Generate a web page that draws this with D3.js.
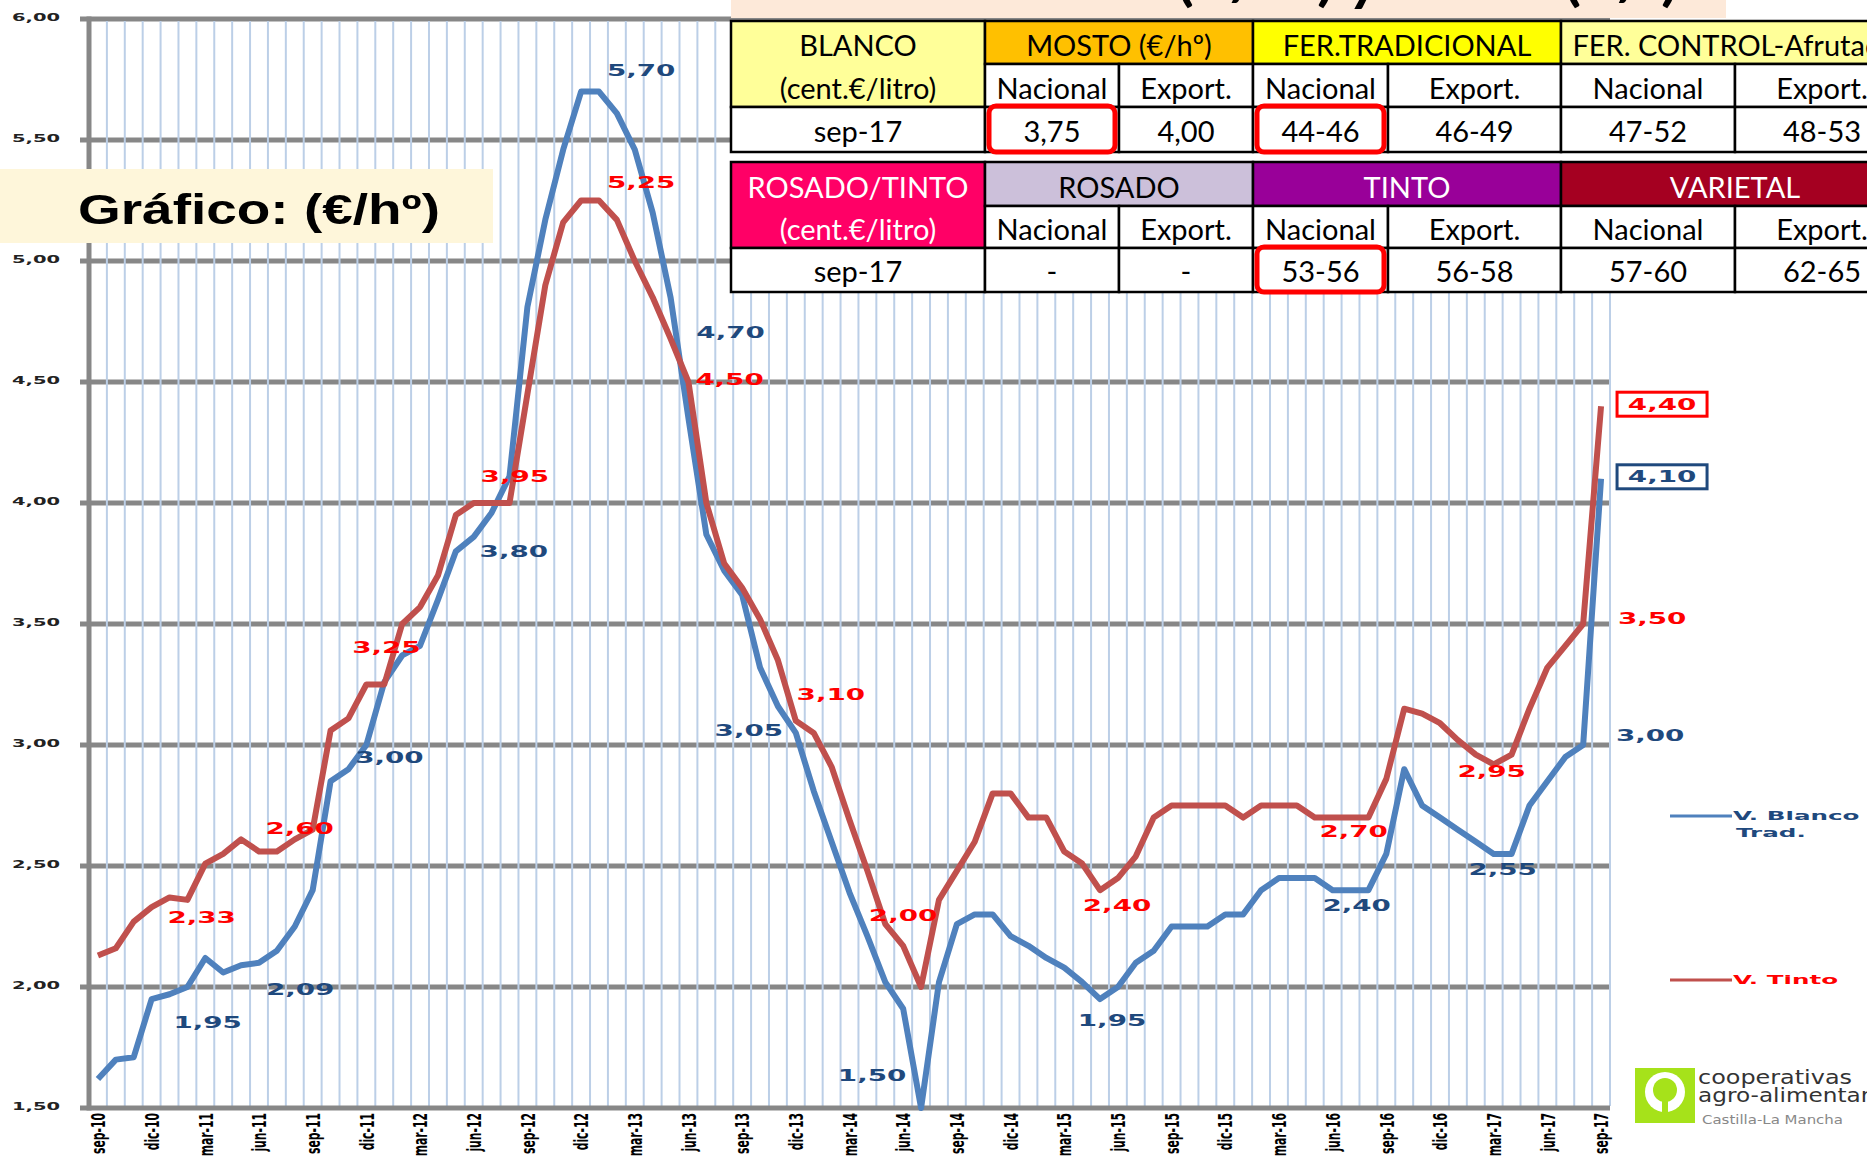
<!DOCTYPE html>
<html lang="es">
  <head>
    <meta charset="utf-8">
    <title>Gráfico (€/hº)</title>
    <script src="https://d3js.org/d3.v7.min.js"></script>
    <style>
      body { margin: 0; background: #fff; }
      svg { display: block; }
    </style>
  </head>
  <body>
    <svg id="chart"></svg>
    <script>
      // monthly categories, sep-10 .. sep-17
      var months = [
        "sep-10","oct-10","nov-10","dic-10",
        "ene-11","feb-11","mar-11","abr-11","may-11","jun-11","jul-11","ago-11","sep-11","oct-11","nov-11","dic-11",
        "ene-12","feb-12","mar-12","abr-12","may-12","jun-12","jul-12","ago-12","sep-12","oct-12","nov-12","dic-12",
        "ene-13","feb-13","mar-13","abr-13","may-13","jun-13","jul-13","ago-13","sep-13","oct-13","nov-13","dic-13",
        "ene-14","feb-14","mar-14","abr-14","may-14","jun-14","jul-14","ago-14","sep-14","oct-14","nov-14","dic-14",
        "ene-15","feb-15","mar-15","abr-15","may-15","jun-15","jul-15","ago-15","sep-15","oct-15","nov-15","dic-15",
        "ene-16","feb-16","mar-16","abr-16","may-16","jun-16","jul-16","ago-16","sep-16","oct-16","nov-16","dic-16",
        "ene-17","feb-17","mar-17","abr-17","may-17","jun-17","jul-17","ago-17","sep-17"
      ];
      var tickMonths = ["sep-10","dic-10","mar-11","jun-11","sep-11","dic-11","mar-12","jun-12","sep-12","dic-12",
        "mar-13","jun-13","sep-13","dic-13","mar-14","jun-14","sep-14","dic-14","mar-15","jun-15","sep-15",
        "dic-15","mar-16","jun-16","sep-16","dic-16","mar-17","jun-17","sep-17"];
      var yTicks = [1.5, 2.0, 2.5, 3.0, 3.5, 4.0, 4.5, 5.0, 5.5, 6.0];

      // V. Blanco Trad.
      var blanco = [
        1.62, 1.70, 1.71, 1.95, 1.97, 2.00, 2.12, 2.06, 2.09, 2.10,
        2.15, 2.25, 2.40, 2.85, 2.90, 3.00, 3.26, 3.37, 3.41, 3.60,
        3.80, 3.86, 3.96, 4.11, 4.81, 5.17, 5.46, 5.70, 5.70, 5.61,
        5.46, 5.20, 4.85, 4.35, 3.87, 3.72, 3.62, 3.32, 3.16, 3.05,
        2.81, 2.60, 2.39, 2.21, 2.02, 1.91, 1.50, 2.02, 2.26, 2.30,
        2.30, 2.21, 2.17, 2.12, 2.08, 2.02, 1.95, 2.00, 2.10, 2.15,
        2.25, 2.25, 2.25, 2.30, 2.30, 2.40, 2.45, 2.45, 2.45, 2.40,
        2.40, 2.40, 2.55, 2.90, 2.75, 2.70, 2.65, 2.60, 2.55, 2.55,
        2.75, 2.85, 2.95, 3.00, 4.10
      ];
      // V. Tinto
      var tinto = [
        2.13, 2.16, 2.27, 2.33, 2.37, 2.36, 2.51, 2.55, 2.61, 2.56,
        2.56, 2.61, 2.65, 3.06, 3.11, 3.25, 3.25, 3.50, 3.57, 3.70,
        3.95, 4.00, 4.00, 4.00, 4.45, 4.90, 5.16, 5.25, 5.25, 5.17,
        5.00, 4.85, 4.68, 4.50, 4.00, 3.75, 3.65, 3.52, 3.35, 3.10,
        3.05, 2.91, 2.69, 2.48, 2.26, 2.17, 2.00, 2.36, 2.48, 2.60,
        2.80, 2.80, 2.70, 2.70, 2.56, 2.51, 2.40, 2.45, 2.54, 2.70,
        2.75, 2.75, 2.75, 2.75, 2.70, 2.75, 2.75, 2.75, 2.70, 2.70,
        2.70, 2.70, 2.86, 3.15, 3.13, 3.09, 3.02, 2.96, 2.92, 2.96,
        3.15, 3.32, 3.41, 3.50, 4.40
      ];

      // data labels: [month index, text, dx, dy, boxed]
      var blancoLabels = [
        [3, "1,95", 56, 23], [8, "2,09", 59, 24], [15, "3,00", 23, 13], [20, "3,80", 58, 0],
        [27, "5,70", 60, -21], [32, "4,70", 60, 35], [39, "3,05", -47, -2], [46, "1,50", -49, -32],
        [56, "1,95", 12, 21], [69, "2,40", 24, 15], [78, "2,55", 9, 16], [83, "3,00", 67, -9],
        [84, "4,10", 61, -2, true]
      ];
      var tintoLabels = [
        [3, "2,33", 50, 10], [12, "2,60", -13, -1], [15, "3,25", 20, -37], [20, "3,95", 59, -39],
        [27, "5,25", 60, -18], [33, "4,50", 41, -2], [39, "3,10", 35, -26], [46, "2,00", -18, -71],
        [56, "2,40", 17, 15], [69, "2,70", 21, 14], [78, "2,95", -2, 7], [83, "3,50", 69, -5],
        [84, "4,40", 61, -2, true]
      ];

      // price tables
      var blancoHead = ["MOSTO (€/hº)", "FER.TRADICIONAL", "FER. CONTROL-Afrutado"];
      var rosadoHead = ["ROSADO", "TINTO", "VARIETAL"];
      var subHead = ["Nacional", "Export."];
      var blancoRow = ["sep-17", "3,75", "4,00", "44-46", "46-49", "47-52", "48-53"];
      var rosadoRow = ["sep-17", "-", "-", "53-56", "56-58", "57-60", "62-65"];

      var w = 1867, h = 1157;
      var plotLeft = 89, plotRight = 1610, plotBottom = 1108, plotTop = 19;
      var blueLine = "#4f81bd", redLine = "#c0504d";
      var blueText = "#1f497d", redText = "#ff0000";

      var svg = d3.select("#chart").attr("width", w).attr("height", h);

      var x = d3.scaleBand().domain(months).range([plotLeft, plotRight]).padding(0);
      var y = d3.scaleLinear().domain([1.5, 6]).range([plotBottom, plotTop]);
      function cx(i) { return x(months[i]) + x.bandwidth() / 2; }

      // horizontal grid
      svg.append("g").selectAll("line")
        .data(yTicks.slice(1))
        .join("line")
        .attr("x1", 80).attr("x2", plotRight)
        .attr("y1", d => y(d)).attr("y2", d => y(d))
        .attr("stroke", "#878787").attr("stroke-width", 5);

      // vertical monthly lines
      svg.append("g").selectAll("line")
        .data(months)
        .join("line")
        .attr("x1", d => x(d) + x.bandwidth()).attr("x2", d => x(d) + x.bandwidth())
        .attr("y1", y(6) + 2).attr("y2", plotBottom - 2)
        .attr("stroke", "#bccfe7").attr("stroke-width", 2);

      // axes lines
      svg.append("line")
        .attr("x1", 80).attr("x2", plotRight).attr("y1", plotBottom).attr("y2", plotBottom)
        .attr("stroke", "#878787").attr("stroke-width", 5);
      svg.append("line")
        .attr("x1", plotLeft).attr("x2", plotLeft).attr("y1", y(6) - 2.5).attr("y2", plotBottom + 2.5)
        .attr("stroke", "#878787").attr("stroke-width", 5);

      // y tick labels
      svg.append("g").selectAll("text")
        .data(yTicks)
        .join("text")
        .attr("transform", d => "translate(60," + (y(d) - 2) + ") scale(1.77,1)")
        .attr("text-anchor", "end")
        .attr("dy", "0.36em")
        .style("font", "bold 11px 'DejaVu Sans', Verdana, sans-serif")
        .attr("fill", "#222")
        .text(d => d3.format(".2f")(d).replace(".", ","));

      // x tick labels (rotated, squeezed along the text to the reference length)
      var xLabels = svg.append("g").selectAll("text")
        .data(tickMonths)
        .join("text")
        .attr("text-anchor", "end")
        .attr("dy", "0.36em")
        .style("font", "bold 20px 'Liberation Sans Narrow', 'DejaVu Sans Condensed', sans-serif")
        .attr("fill", "#000")
        .text(d => d);
      var squeeze = 41 / xLabels.node().getComputedTextLength();
      xLabels.attr("transform", d => "translate(" + (x(d) + x.bandwidth() / 2) + ",1113) rotate(-90) scale(" + squeeze + ",1)");

      // series
      var line = d3.line().x((d, i) => cx(i)).y(d => y(d));
      svg.append("path").datum(blanco)
        .attr("d", line).attr("fill", "none")
        .attr("stroke", blueLine).attr("stroke-width", 6)
        .attr("stroke-linejoin", "round");
      svg.append("path").datum(tinto)
        .attr("d", line).attr("fill", "none")
        .attr("stroke", redLine).attr("stroke-width", 6)
        .attr("stroke-linejoin", "round");

      // data labels
      function drawLabels(labels, values, color) {
        var g = svg.append("g");
        labels.forEach(function(l) {
          var lx = cx(l[0]) + l[2], ly = y(values[l[0]]) + l[3];
          if (l[4]) {
            g.append("rect")
              .attr("x", lx - 45).attr("y", ly - 12)
              .attr("width", 90).attr("height", 24)
              .attr("fill", "#fff").attr("stroke", color).attr("stroke-width", 3);
          }
          g.append("text")
            .attr("transform", "translate(" + lx + "," + ly + ") scale(1.85,1)")
            .attr("text-anchor", "middle")
            .attr("dy", "0.36em")
            .style("font", "bold 15px 'DejaVu Sans', Verdana, sans-serif")
            .attr("fill", color)
            .text(l[1]);
        });
      }
      drawLabels(blancoLabels, blanco, blueText);
      drawLabels(tintoLabels, tinto, redText);

      // legend
      var legend = [
        {lines: ["V. Blanco", "Trad."], color: blueLine, text: blueText, y: 816},
        {lines: ["V. Tinto"], color: redLine, text: redText, y: 980}
      ];
      legend.forEach(function(d) {
        svg.append("line")
          .attr("x1", 1670).attr("x2", 1732).attr("y1", d.y).attr("y2", d.y)
          .attr("stroke", d.color).attr("stroke-width", 3);
        d.lines.forEach(function(t, k) {
          svg.append("text")
            .attr("transform", "translate(" + (1733 + k * 3) + "," + (d.y + k * 17) + ") scale(2.05,1)")
            .attr("dy", "0.36em")
            .style("font", "bold 12px 'DejaVu Sans', Verdana, sans-serif")
            .attr("fill", d.text)
            .text(t);
        });
      });

      // title box
      svg.append("rect")
        .attr("x", 0).attr("y", 169).attr("width", 493).attr("height", 74)
        .attr("fill", "#fef6da");
      svg.append("text")
        .attr("x", 78).attr("y", 224)
        .attr("textLength", 362).attr("lengthAdjust", "spacingAndGlyphs")
        .style("font", "bold 42px 'Liberation Sans', Arial, sans-serif")
        .attr("fill", "#000")
        .text("Gráfico: (€/hº)");

      // top band with cut-off heading
      svg.append("rect")
        .attr("x", 731).attr("y", 0).attr("width", 995).attr("height", 18)
        .attr("fill", "#fde9d9");
      svg.append("text")
        .attr("x", 1177).attr("y", 0)
        .attr("textLength", 501).attr("lengthAdjust", "spacingAndGlyphs")
        .style("font", "bold 52px Lato, sans-serif")
        .attr("fill", "#000")
        .text("(€/hº) y VINO (€/l)");

      // tables
      var cols = [731, 985, 1119, 1253, 1388, 1561, 1735, 1909];
      function cell(x0, x1, y0, y1, fill, lines, color, bases) {
        svg.append("rect")
          .attr("x", x0).attr("y", y0).attr("width", x1 - x0).attr("height", y1 - y0)
          .attr("fill", fill).attr("stroke", "#000").attr("stroke-width", 2.5);
        lines.forEach(function(t, k) {
          svg.append("text")
            .attr("x", (x0 + x1) / 2).attr("y", bases[k])
            .attr("text-anchor", "middle")
            .style("font", "29px Lato, 'Open Sans', sans-serif")
            .attr("fill", color)
            .text(t);
        });
      }
      function table(rows, first, firstFill, firstColor, heads, headFills, headColors, values) {
        cell(cols[0], cols[1], rows[0], rows[2], firstFill, first, firstColor,
             [rows[1] - 8, rows[2] - 8]);
        heads.forEach(function(t, k) {
          cell(cols[1 + 2 * k], cols[3 + 2 * k], rows[0], rows[1], headFills[k], [t], headColors[k], [rows[1] - 8]);
        });
        for (var c = 1; c < 7; c++) {
          cell(cols[c], cols[c + 1], rows[1], rows[2], "#fff", [subHead[(c - 1) % 2]], "#000", [rows[2] - 8]);
        }
        values.forEach(function(t, c) {
          cell(cols[c], cols[c + 1], rows[2], rows[3], "#fff", [t], "#000", [rows[3] - 10]);
        });
      }
      var rows1 = [21, 64, 107, 152], rows2 = [162, 206, 248, 292];
      svg.append("rect").attr("x", 731).attr("y", 152).attr("width", 1136).attr("height", 10).attr("fill", "#fff");
      table(rows1, ["BLANCO", "(cent.€/litro)"], "#ffff99", "#000", blancoHead,
            ["#ffc000", "#ffff00", "#ffff99"], ["#000", "#000", "#000"], blancoRow);
      table(rows2, ["ROSADO/TINTO", "(cent.€/litro)"], "#ff0066", "#fff", rosadoHead,
            ["#ccc0da", "#990099", "#a50021"], ["#000", "#fff", "#fff"], rosadoRow);

      // highlighted cells
      [[rows1, 1], [rows1, 3], [rows2, 3]].forEach(function(d) {
        var r = d[0], c = d[1];
        svg.append("rect")
          .attr("x", cols[c] + 4).attr("y", r[2] - 1)
          .attr("width", cols[c + 1] - cols[c] - 8).attr("height", r[3] - r[2] + 1)
          .attr("rx", 7).attr("fill", "none")
          .attr("stroke", "#ff0000").attr("stroke-width", 5);
      });

      // logo
      var logo = svg.append("g");
      logo.append("rect").attr("x", 1635).attr("y", 1068).attr("width", 60).attr("height", 55).attr("fill", "#a6e21a");
      logo.append("circle").attr("cx", 1665).attr("cy", 1092).attr("r", 20).attr("fill", "#fff");
      logo.append("circle").attr("cx", 1665).attr("cy", 1090).attr("r", 12).attr("fill", "#a6e21a");
      logo.append("rect").attr("x", 1662).attr("y", 1096).attr("width", 6).attr("height", 27).attr("fill", "#a6e21a");
      logo.append("text").attr("x", 1698).attr("y", 1084)
        .attr("textLength", 154).attr("lengthAdjust", "spacingAndGlyphs")
        .style("font", "20px 'DejaVu Sans', sans-serif").attr("fill", "#333").text("cooperativas");
      logo.append("text").attr("x", 1698).attr("y", 1102)
        .attr("textLength", 205).attr("lengthAdjust", "spacingAndGlyphs")
        .style("font", "20px 'DejaVu Sans', sans-serif").attr("fill", "#333").text("agro-alimentarias");
      logo.append("text").attr("x", 1702).attr("y", 1124)
        .attr("textLength", 141).attr("lengthAdjust", "spacingAndGlyphs")
        .style("font", "12px 'DejaVu Sans', sans-serif").attr("fill", "#888").text("Castilla-La Mancha");
    </script>
  </body>
</html>
